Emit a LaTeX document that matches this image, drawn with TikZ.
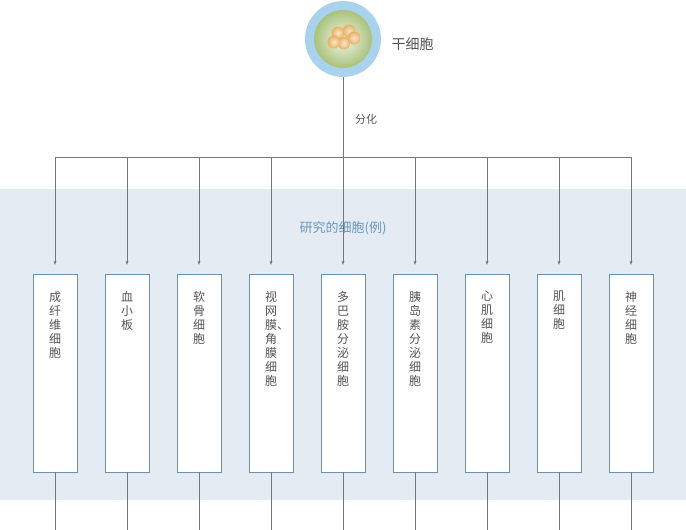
\documentclass[tikz,border=0pt]{standalone}
\usepackage{fontspec}
\setmainfont{Noto Sans CJK SC}
\usetikzlibrary{arrows.meta}
\definecolor{band}{HTML}{E4EBF2}
\definecolor{boxline}{HTML}{6C90AE}
\definecolor{title}{HTML}{6A98C0}
\definecolor{txt}{HTML}{555555}
\definecolor{ringblue}{HTML}{A9D3EC}
\definecolor{cellgreen}{HTML}{A9C27A}
\definecolor{yolk}{HTML}{E8B060}
\tikzset{
  cellbox/.style={draw=boxline, fill=white, minimum width=44pt, minimum height=198pt, inner sep=0pt},
  celltext/.style={align=center, font=\fontsize{12}{14}\selectfont, text=txt, anchor=north, inner sep=0pt},
  link/.style={draw=txt!80, thin},
  tip/.style={-{Stealth[length=4pt,width=3pt]}}
}
\begin{document}
\begin{tikzpicture}[x=1pt,y=-1pt]
\useasboundingbox (0,0) rectangle (686,530);
\fill[band] (0,189) rectangle (686,500);
% stem cell
\fill[ringblue] (343,39) circle (38);
\shade[inner color=white!85!cellgreen, outer color=cellgreen] (343,39) circle (29);
\foreach \cx/\cy in {338/33, 349/31, 344/43, 354/38, 334/42}
  \shade[inner color=white!70!yolk, outer color=yolk] (\cx,\cy) circle (6.5);
\node[font=\fontsize{14}{16}\selectfont, text=txt, anchor=west] (stem) at (388,44) {干细胞};
\coordinate (top) at (343,77);
\coordinate (split) at (343,157);
\draw[link] (top) -- (split);
\node[font=\fontsize{11}{13}\selectfont, text=txt] (diff) at (366,119) {分化};
\draw[link] (55,157) -- (631,157);
\node[font=\fontsize{13}{15}\selectfont, text=title] (head) at (343,228) {研究的细胞(例)};
% cell boxes
\foreach \i/\name in {0/成\\纤\\维\\细\\胞, 1/血\\小\\板, 2/软\\骨\\细\\胞, 3/视\\网\\膜\rlap{、}\\角\\膜\\细\\胞, 4/多\\巴\\胺\\分\\泌\\细\\胞, 5/胰\\岛\\素\\分\\泌\\细\\胞, 6/心\\肌\\细\\胞, 7/肌\\细\\胞, 8/神\\经\\细\\胞}{
  \pgfmathsetmacro\bx{55+72*\i}
  \node[cellbox] (b\i) at (\bx,373) {};
  \node[celltext] (t\i) at (\bx,291) {\name};
  \coordinate (a\i) at (\bx,157);
  \coordinate (e\i) at (\bx,530);
  \draw[link,tip] (a\i) -- ([yshift=9pt]b\i.north);
  \draw[link] (b\i.south) -- (e\i);
}
\end{tikzpicture}
\end{document}
